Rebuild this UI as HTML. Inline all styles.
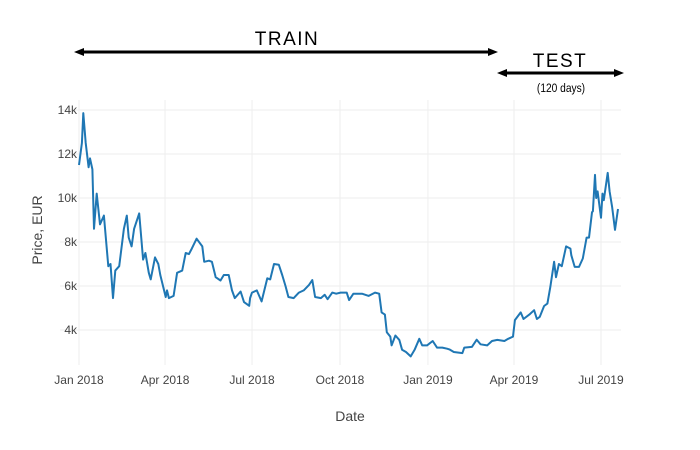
<!DOCTYPE html>
<html><head><meta charset="utf-8"><style>
body{margin:0;background:#fff;}
svg{display:block;font-family:"Liberation Sans",sans-serif;}
</style></head><body>
<svg id="chart" width="700" height="450">
  <g id="grid"></g>
  <g id="yticks"></g>
  <g id="xticks"></g>
  <path id="line" fill="none" stroke="#1f77b4" stroke-width="2" stroke-linejoin="round"></path>
  <text x="350" y="421" text-anchor="middle" font-size="14" fill="#444">Date</text>
  <text transform="translate(42,230) rotate(-90)" text-anchor="middle" font-size="14" fill="#444">Price, EUR</text>
  <g>
    <line x1="80" y1="52" x2="492" y2="52" stroke="#000" stroke-width="3"/>
    <polygon points="74,52 84,48 84,56" fill="#000"/>
    <polygon points="498,52 488,48 488,56" fill="#000"/>
    <text x="287" y="45" text-anchor="middle" font-size="19" letter-spacing="1.5" fill="#000">TRAIN</text>
  </g>
  <g>
    <line x1="503" y1="73" x2="618" y2="73" stroke="#000" stroke-width="3"/>
    <polygon points="497,73 507,69 507,77" fill="#000"/>
    <polygon points="624,73 614,69 614,77" fill="#000"/>
    <text x="560" y="67" text-anchor="middle" font-size="19" letter-spacing="1.5" fill="#000">TEST</text>
    <text x="561" y="92" text-anchor="middle" font-size="12" fill="#000" transform="translate(561,0) scale(0.85,1) translate(-561,0)">(120 days)</text>
  </g>
</svg>
<script>
const days=[0,3,4.5,7,10,11.5,14,15.7,18.5,22,26,30.7,33,35.6,38,42,47,50,52,55,57.6,63,67,69.5,73,75,79.5,83,85,90.7,92,94,99,102.6,108,111.6,115,118,123,129,131,136,139,143,148,151.5,156.6,160,163,169,172.6,178,179,181,186,191,197,200,204,209,212.6,216,219,224.6,230,235,240.6,244,247,253,257,260,265,269,273.6,280,282.5,287,296,303,309.6,314,316.5,320,322,325.6,327,331,335,338,342,347,351,356,359,364,370,374.5,380,385,387.5,392,401,403,411,416,420,427,432,437.5,445,449,454,456,462,465,471,476,479,482,486.5,490,493,497,499,502,505,509.5,514,515,518.5,523,527,531,533.5,536.6,537.6,539.8,541,542.5,546,547.6,549,553,555,557.6,560.7,563.8];
const prices=[11.5,12.5,13.86,12.5,11.4,11.8,11.3,8.6,10.2,8.8,9.2,6.9,7.0,5.45,6.7,6.9,8.6,9.2,8.2,7.8,8.6,9.3,7.2,7.5,6.6,6.3,7.3,7.0,6.5,5.5,5.8,5.45,5.55,6.6,6.7,7.5,7.45,7.7,8.15,7.8,7.1,7.15,7.1,6.4,6.25,6.5,6.5,5.8,5.45,5.75,5.27,5.1,5.45,5.7,5.8,5.3,6.35,6.3,7.0,6.97,6.5,6.0,5.5,5.45,5.7,5.8,6.05,6.27,5.5,5.45,5.6,5.4,5.7,5.65,5.7,5.7,5.36,5.65,5.65,5.55,5.7,5.65,4.8,4.7,3.9,3.7,3.3,3.75,3.55,3.1,3.0,2.8,3.1,3.6,3.3,3.3,3.5,3.2,3.2,3.15,3.12,3.0,2.95,3.2,3.23,3.56,3.35,3.3,3.5,3.55,3.5,3.6,3.7,4.45,4.8,4.5,4.7,4.9,4.5,4.6,5.09,5.2,5.95,7.1,6.4,7.0,6.9,7.8,7.7,7.4,6.87,6.87,7.25,8.2,8.2,9.35,9.4,11.05,10.0,10.3,9.1,10.2,9.9,11.14,10.3,9.6,8.55,9.5];
const yTicks=[4,6,8,10,12,14];
const xTickDays=[0,90,181,273,365,455,546];
const xTickLabels=["Jan 2018","Apr 2018","Jul 2018","Oct 2018","Jan 2019","Apr 2019","Jul 2019"];

const X0=79,PXD=0.956,L=60,R=621;
const xs=d=>X0+d*PXD;
const ys=v=>330-(v-4)*22;
const NS="http://www.w3.org/2000/svg";
const grid=document.getElementById('grid'),yt=document.getElementById('yticks'),xt=document.getElementById('xticks');
yTicks.forEach(v=>{
  const l=document.createElementNS(NS,'line');
  l.setAttribute('x1',L);l.setAttribute('x2',R);l.setAttribute('y1',ys(v));l.setAttribute('y2',ys(v));
  l.setAttribute('stroke','#eee');l.setAttribute('stroke-width','1');
  
  
  grid.appendChild(l);
  const t=document.createElementNS(NS,'text');
  t.setAttribute('x',L+17);t.setAttribute('y',ys(v)+4);t.setAttribute('text-anchor','end');
  t.setAttribute('font-size','12');t.setAttribute('fill','#444');t.textContent=v+'k';
  
  
  yt.appendChild(t);
});
xTickDays.forEach((d,i)=>{
  const l=document.createElementNS(NS,'line');
  l.setAttribute('x1',xs(d));l.setAttribute('x2',xs(d));l.setAttribute('y1',100);l.setAttribute('y2',365);
  l.setAttribute('stroke','#eee');l.setAttribute('stroke-width','1');
  
  
  grid.appendChild(l);
  const t=document.createElementNS(NS,'text');
  t.setAttribute('x',xs(d));t.setAttribute('y',384);t.setAttribute('text-anchor','middle');
  t.setAttribute('font-size','12');t.setAttribute('fill','#444');t.textContent=xTickLabels[i];
  
  
  xt.appendChild(t);
});
document.getElementById('line').setAttribute('d',days.map((d,i)=>(i?'L':'M')+xs(d).toFixed(1)+','+ys(prices[i]).toFixed(1)).join(''));
</script>
</body></html>
